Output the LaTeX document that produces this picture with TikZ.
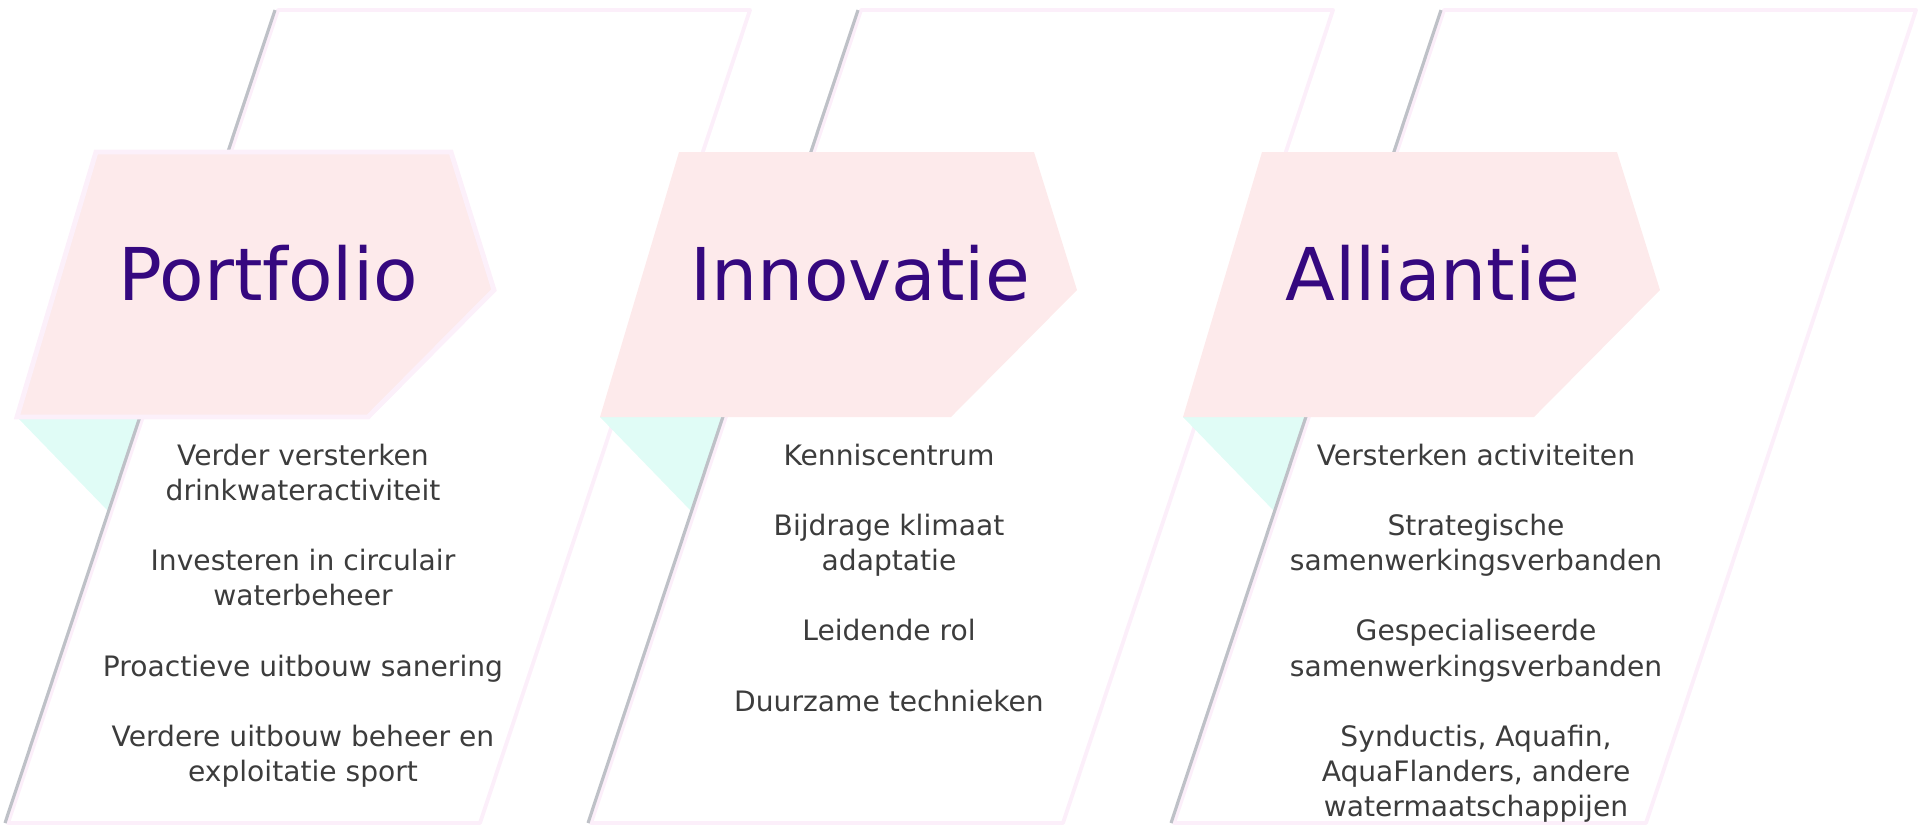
\documentclass[tikz,border=0pt]{standalone}
\usepackage{fontspec}
\setmainfont{DejaVu Sans}
\definecolor{framepink}{HTML}{FCEFFA}
\definecolor{edgegrey}{HTML}{BEC1C7}
\definecolor{headpink}{HTML}{FDEAEB}
\definecolor{headborder}{HTML}{FCF0FA}
\definecolor{tricyan}{HTML}{E0FCF6}
\definecolor{titlepurple}{HTML}{35087F}
\definecolor{bodygrey}{HTML}{3C3C3C}
\begin{document}
\begin{tikzpicture}[x=0.01cm,y=-0.01cm,
  frame/.style={draw=framepink,line width=1.1pt,line join=round},
  leftedge/.style={draw=edgegrey,line width=0.9pt},
  headshape/.style={fill=headpink,draw=none},
  firsthead/.style={fill=headpink,draw=headborder,line width=1.4pt},
  tri/.style={fill=tricyan,draw=none},
  titletext/.style={text=titlepurple,font=\fontsize{20.7}{24}\selectfont,inner sep=0pt,anchor=base},
  bodytext/.style={text=bodygrey,font=\fontsize{8}{10}\selectfont,align=center,inner sep=0pt,anchor=north}]
\useasboundingbox (0,0) rectangle (1921,826);
\foreach \dx [count=\i] in {0,583,1166} {
  \coordinate (tl\i) at (278+\dx,10);
  \coordinate (tr\i) at (750+\dx,10);
  \coordinate (br\i) at (480+\dx,823);
  \coordinate (bl\i) at (8+\dx,823);
  \coordinate (gt\i) at (275+\dx,10);
  \coordinate (gb\i) at (5+\dx,823);
  \coordinate (ha\i) at (96+\dx,152);
  \coordinate (hb\i) at (451+\dx,152);
  \coordinate (hc\i) at (494+\dx,290);
  \coordinate (hd\i) at (368+\dx,417);
  \coordinate (he\i) at (17+\dx,417);
  \coordinate (ta\i) at (141+\dx,417);
  \coordinate (tb\i) at (109+\dx,512);
}
% frames
\foreach \i in {1,2,3} {
  \draw[frame] (tl\i) -- (tr\i) -- (br\i) -- (bl\i) -- cycle;
}
% cyan triangles
\foreach \i in {1,2,3} {
  \fill[tri] (he\i) -- (ta\i) -- (tb\i) -- cycle;
}
% grey left edges
\foreach \i in {1,2,3} {
  \draw[leftedge] (gb\i) -- (gt\i);
}
% heads
\draw[firsthead] (ha1) -- (hb1) -- (hc1) -- (hd1) -- (he1) -- cycle;
\foreach \i in {2,3} {
  \fill[headshape] (ha\i) -- (hb\i) -- (hc\i) -- (hd\i) -- (he\i) -- cycle;
}
\node[titletext] (t1) at (268,300) {Portfolio};
\node[titletext] (t2) at (860,300) {Innovatie};
\node[titletext] (t3) at (1433,300) {Alliantie};
\node[bodytext] (b1) at (303,443) {Verder versterken\\drinkwateractiviteit\\[10pt]Investeren in circulair\\waterbeheer\\[10pt]Proactieve uitbouw sanering\\[10pt]Verdere uitbouw beheer en\\exploitatie sport};
\node[bodytext] (b2) at (889,443) {Kenniscentrum\\[10pt]Bijdrage klimaat\\adaptatie\\[10pt]Leidende rol\\[10pt]Duurzame technieken};
\node[bodytext] (b3) at (1476,443) {Versterken activiteiten\\[10pt]Strategische\\samenwerkingsverbanden\\[10pt]Gespecialiseerde\\samenwerkingsverbanden\\[10pt]Synductis, Aquafin,\\AquaFlanders, andere\\watermaatschappijen};
\end{tikzpicture}
\end{document}
